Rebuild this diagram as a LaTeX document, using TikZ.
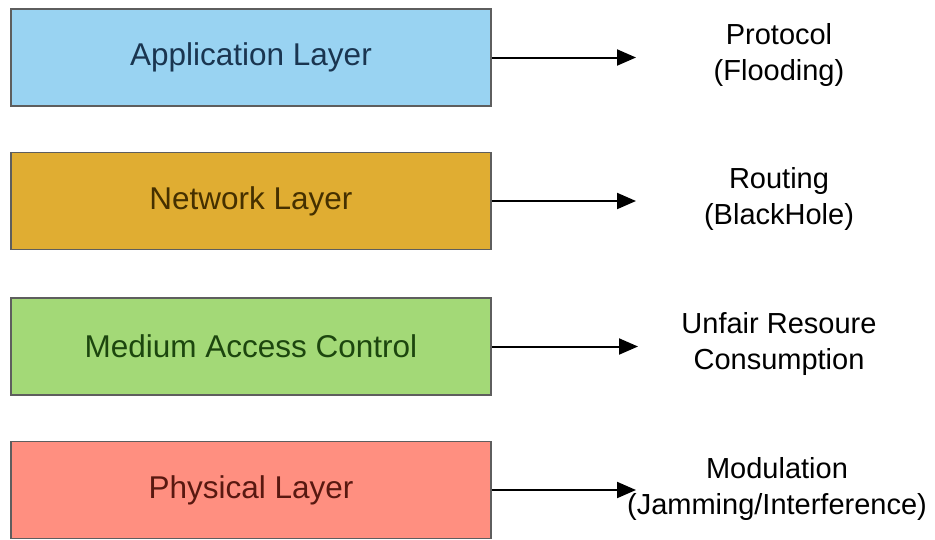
\documentclass[tikz,border=0pt]{standalone}
\usepackage{fontspec}
\setmainfont{Liberation Sans}
\usetikzlibrary{arrows.meta}
\definecolor{boxedge}{HTML}{5E5E5E}
\definecolor{appfill}{HTML}{99D3F2}
\definecolor{apptext}{HTML}{1A3550}
\definecolor{netfill}{HTML}{E0AD32}
\definecolor{nettext}{HTML}{453000}
\definecolor{macfill}{HTML}{A3D977}
\definecolor{mactext}{HTML}{1C460E}
\definecolor{phyfill}{HTML}{FF8F80}
\definecolor{phytext}{HTML}{581810}
\begin{document}
\begin{tikzpicture}[x=1pt,y=-1pt,
  layerbox/.style={draw=boxedge, line width=1.8pt, minimum width=480pt,
    minimum height=97pt, inner sep=0pt, font=\fontsize{31.5}{36}\selectfont},
  effect/.style={align=center, inner sep=0pt, font=\fontsize{29}{36}\selectfont},
  link/.style={line width=2pt, -{Triangle[length=19pt,width=16pt]}}]
  % canvas
  \fill[white] (0,0) rectangle (935,539);
  \useasboundingbox (0,0) rectangle (935,539);

  % protocol stack layers
  \node[layerbox, fill=appfill, text=apptext] (app) at (251,57.5) {Application Layer};
  \node[layerbox, fill=netfill, text=nettext] (net) at (251,201) {Network Layer};
  \node[layerbox, fill=macfill, text=mactext] (mac) at (251,346.5) {Medium Access Control};
  \node[layerbox, fill=phyfill, text=phytext] (phy) at (251,490) {Physical Layer};

  % arrow ends
  \coordinate (tapp) at (636,57.5);
  \coordinate (tnet) at (636,201);
  \coordinate (tmac) at (638,346.5);
  \coordinate (tphy) at (636,490);

  % attacks per layer
  \node[effect] (eapp) at (779,55) {Protocol\\(Flooding)};
  \node[effect] (enet) at (779,199) {Routing\\(BlackHole)};
  \node[effect] (emac) at (779,344) {Unfair Resoure\\Consumption};
  \node[effect] (ephy) at (777,489) {Modulation\\(Jamming/Interference)};

  \draw[link] (app.east) -- (tapp);
  \draw[link] (net.east) -- (tnet);
  \draw[link] (mac.east) -- (tmac);
  \draw[link] (phy.east) -- (tphy);
\end{tikzpicture}
\end{document}
